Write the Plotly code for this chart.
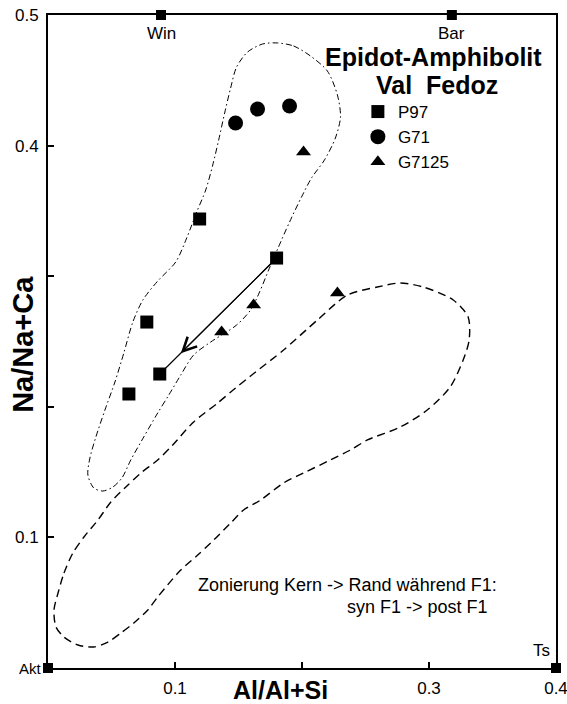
import plotly.graph_objects as go

# ---- data ----
p97_x = [0.0637, 0.0778, 0.0880, 0.1194, 0.1800]
p97_y = [0.2098, 0.2649, 0.2251, 0.3438, 0.3139]

g71_x = [0.1477, 0.1650, 0.1902]
g71_y = [0.4173, 0.4280, 0.4303]

g7125_x = [0.1367, 0.1619, 0.2012, 0.2279]
g7125_y = [0.2573, 0.2779, 0.3951, 0.2871]

end_names = ["Win", "Bar", "Akt", "Ts"]
end_x = [0.089, 0.318, 0.0, 0.4]
end_y = [0.5, 0.5, 0.0, 0.0]

# zoning arrow: core (index 4) -> rim (index 2) of P97
arrow_from = 4
arrow_to = 2
arrow_frac = 0.82

# envelope syn F1 (dash-dot)
env1_x = [0.1807, 0.1933, 0.2067, 0.2200, 0.2279, 0.2303, 0.2263, 0.2177, 0.2075, 0.1996,
          0.1902, 0.1815, 0.1737, 0.1666, 0.1595, 0.1485, 0.1281, 0.1147, 0.1045, 0.0951,
          0.0864, 0.0754, 0.0652, 0.0582, 0.0511, 0.0432, 0.0361, 0.0314, 0.0330, 0.0377,
          0.0448, 0.0527, 0.0597, 0.0668, 0.0747, 0.0864, 0.1006, 0.1092, 0.1171, 0.1242,
          0.1297, 0.1344, 0.1391, 0.1438, 0.1485, 0.1572, 0.1690, 0.1807]
env1_y = [0.4786, 0.4763, 0.4686, 0.4571, 0.4387, 0.4219, 0.4058, 0.3890, 0.3752, 0.3606,
          0.3415, 0.3224, 0.3047, 0.2879, 0.2741, 0.2626, 0.2496, 0.2397, 0.2243, 0.2090,
          0.1953, 0.1769, 0.1593, 0.1455, 0.1386, 0.1355, 0.1378, 0.1478, 0.1608, 0.1769,
          0.1975, 0.2190, 0.2412, 0.2649, 0.2818, 0.2963, 0.3109, 0.3292, 0.3492, 0.3660,
          0.3851, 0.4043, 0.4250, 0.4441, 0.4602, 0.4717, 0.4778, 0.4786]

# envelope post F1 (dashed)
env2_x = [0.0079, 0.0126, 0.0196, 0.0283, 0.0393, 0.0495, 0.0613, 0.0731, 0.0864, 0.0982,
          0.1147, 0.1336, 0.1477, 0.1595, 0.1855, 0.2122, 0.2358, 0.2593, 0.2774, 0.2955,
          0.3191, 0.3308, 0.3316, 0.3269, 0.3167, 0.2986, 0.2774, 0.2515, 0.2381, 0.2224,
          0.2012, 0.1855, 0.1674, 0.1540, 0.1438, 0.1305, 0.1179, 0.1045, 0.0864, 0.0786,
          0.0676, 0.0574, 0.0472, 0.0361, 0.0236, 0.0126, 0.0063, 0.0047, 0.0079]
env2_y = [0.0574, 0.0727, 0.0881, 0.1003, 0.1133, 0.1271, 0.1386, 0.1493, 0.1593, 0.1708,
          0.1884, 0.2029, 0.2144, 0.2236, 0.2435, 0.2665, 0.2856, 0.2917, 0.2948, 0.2917,
          0.2818, 0.2688, 0.2511, 0.2358, 0.2152, 0.1975, 0.1845, 0.1746, 0.1669, 0.1593,
          0.1493, 0.1417, 0.1286, 0.1210, 0.1110, 0.0980, 0.0865, 0.0750, 0.0544, 0.0444,
          0.0345, 0.0268, 0.0199, 0.0161, 0.0176, 0.0237, 0.0314, 0.0444, 0.0574]

x_ticks = [0.1, 0.2, 0.3, 0.4]
x_ticklabels = ["0.1", "", "0.3", "0.4"]
y_ticks = [0.1, 0.2, 0.3, 0.4, 0.5]
y_ticklabels = ["0.1", "", "", "0.4", "0.5"]

FONT = "Liberation Sans, Arial, Helvetica, sans-serif"

fig = go.Figure()

fig.add_trace(go.Scatter(x=env1_x, y=env1_y, mode="lines", showlegend=False,
                         line=dict(color="black", width=1, dash="6px,3px,1.5px,3px", shape="spline", smoothing=0.8),
                         hoverinfo="skip"))
fig.add_trace(go.Scatter(x=env2_x, y=env2_y, mode="lines", showlegend=False,
                         line=dict(color="black", width=1.4, dash="8px,5px", shape="spline", smoothing=0.8),
                         hoverinfo="skip"))

# zoning line
fig.add_trace(go.Scatter(x=[p97_x[arrow_from], p97_x[arrow_to]], y=[p97_y[arrow_from], p97_y[arrow_to]],
                         mode="lines", showlegend=False, line=dict(color="black", width=1.2),
                         hoverinfo="skip"))

fig.add_trace(go.Scatter(x=p97_x, y=p97_y, mode="markers", name="P97", legendgroup="a",
                         marker=dict(symbol="square", size=13, color="black")))
fig.add_trace(go.Scatter(x=g71_x, y=g71_y, mode="markers", name="G71", legendgroup="b",
                         marker=dict(symbol="circle", size=15, color="black")))
fig.add_trace(go.Scatter(x=g7125_x, y=g7125_y, mode="markers", name="G7125", legendgroup="c",
                         marker=dict(symbol="triangle-up", size=13, color="black")))

fig.add_trace(go.Scatter(x=end_x, y=end_y, mode="markers", showlegend=False, cliponaxis=False,
                         marker=dict(symbol="square", size=10, color="black")))

tip_x = p97_x[arrow_from] + arrow_frac * (p97_x[arrow_to] - p97_x[arrow_from])
tip_y = p97_y[arrow_from] + arrow_frac * (p97_y[arrow_to] - p97_y[arrow_from])


def paper_text(x, y, text, size, xanchor="center", yanchor="middle", **kw):
    return dict(xref="paper", yref="paper", x=x, y=y, text=text, showarrow=False,
                xanchor=xanchor, yanchor=yanchor, font=dict(size=size), **kw)


annotations = [
    dict(x=tip_x, y=tip_y, ax=p97_x[arrow_from], ay=p97_y[arrow_from], axref="x", ayref="y",
         xref="x", yref="y", text="", showarrow=True, arrowhead=5, arrowsize=2.2,
         arrowwidth=1.2, arrowcolor="black", standoff=0, startstandoff=0),
    dict(x=end_x[0], y=end_y[0], text="Win", showarrow=False, xanchor="center", yanchor="middle",
         yshift=-18, font=dict(size=17)),
    dict(x=end_x[1], y=end_y[1], text="Bar", showarrow=False, xanchor="center", yanchor="middle",
         yshift=-18, font=dict(size=17)),
    dict(x=end_x[2], y=end_y[2], text="Akt", showarrow=False, xanchor="right", yanchor="middle",
         xshift=-4, font=dict(size=15)),
    dict(x=end_x[3], y=end_y[3], text="Ts", showarrow=False, xanchor="right", yanchor="bottom",
         xshift=-4, yshift=6, font=dict(size=17)),
    paper_text(0.758, 0.936, "<b>Epidot-Amphibolit</b>", 25),
    paper_text(0.766, 0.893, "<b>Val  Fedoz</b>", 25),
    paper_text(0.888, 0.127, "Zonierung Kern -> Rand während F1:", 18, xanchor="right"),
    paper_text(0.870, 0.0934, "syn F1 -> post F1", 18, xanchor="right"),
    paper_text(-0.049, 0.495, "<b>Na/Na+Ca</b>", 29, textangle=-90),
    paper_text(0.457, -0.034, "<b>Al/Al+Si</b>", 25),
]

fig.update_layout(
    width=567, height=704,
    margin=dict(l=48, r=11, t=15, b=36),
    paper_bgcolor="white", plot_bgcolor="white",
    font=dict(family=FONT, color="black", size=16),
    annotations=annotations,
    legend=dict(x=0.61, y=0.879, xanchor="left", yanchor="top", bgcolor="rgba(0,0,0,0)",
                font=dict(size=17), traceorder="grouped", tracegroupgap=0,
                itemsizing="trace"),
    showlegend=True,
)
fig.update_xaxes(range=[0, 0.4], tickvals=x_ticks, ticktext=x_ticklabels, ticks="inside",
                 ticklen=6, tickwidth=1.5, tickcolor="black", showgrid=False, zeroline=False,
                 showline=True, linecolor="black", linewidth=2, mirror=True, automargin=False,
                 tickfont=dict(size=17), ticklabelstandoff=4, ticklabeloverflow="allow")
fig.update_yaxes(range=[0, 0.5], tickvals=y_ticks, ticktext=y_ticklabels, ticks="inside",
                 ticklen=6, tickwidth=1.5, tickcolor="black", showgrid=False, zeroline=False,
                 showline=True, linecolor="black", linewidth=2, mirror=True, automargin=False,
                 tickfont=dict(size=17), ticklabelstandoff=4, ticklabeloverflow="allow")

fig.write_html("out.html", config={"displayModeBar": False},
               post_script="document.body.style.margin='0px';")
